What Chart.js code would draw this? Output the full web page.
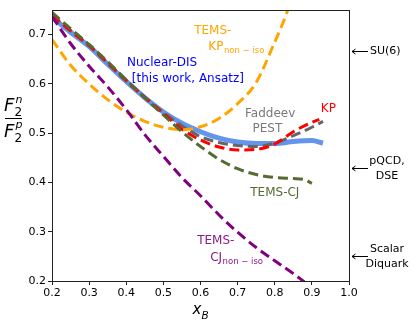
<!DOCTYPE html>
<html>
<head>
<meta charset="utf-8">
<script src="https://cdn.jsdelivr.net/npm/chart.js@4.4.1/dist/chart.umd.min.js"></script>
<style>
  html, body { margin: 0; padding: 0; background: #fff; }
  #wrap { width: 420px; height: 328px; }
</style>
</head>
<body>
<div id="wrap"><canvas id="chart" width="420" height="328"></canvas></div>
<script>
// Tick values
const xTicks = [0.2, 0.3, 0.4, 0.5, 0.6, 0.7, 0.8, 0.9, 1.0];
const yTicks = [0.2, 0.3, 0.4, 0.5, 0.6, 0.7];

// Nuclear-DIS [this work, Ansatz]
const nucX = [0.2, 0.25, 0.3, 0.35, 0.4, 0.45, 0.5, 0.55, 0.6, 0.65, 0.7, 0.75, 0.8, 0.85, 0.9, 0.93];
const nucY = [0.735, 0.705, 0.676, 0.64, 0.605, 0.572, 0.543, 0.52, 0.503, 0.49, 0.482, 0.479, 0.479, 0.483, 0.485, 0.48];

// Faddeev PEST
const pestX = [0.2, 0.3, 0.4, 0.5, 0.55, 0.6, 0.65, 0.7, 0.75, 0.8, 0.85, 0.9, 0.93];
const pestY = [0.737, 0.677, 0.606, 0.542, 0.515, 0.493, 0.481, 0.475, 0.473, 0.48, 0.495, 0.512, 0.524];

// KP
const kpX = [0.2, 0.25, 0.3, 0.35, 0.4, 0.45, 0.5, 0.55, 0.6, 0.65, 0.7, 0.75, 0.8, 0.85, 0.9, 0.92];
const kpY = [0.74, 0.708, 0.678, 0.643, 0.607, 0.572, 0.54, 0.508, 0.486, 0.472, 0.466, 0.467, 0.478, 0.503, 0.522, 0.528];

// TEMS-KP non-iso
const kpNonIsoX = [0.2, 0.25, 0.3, 0.35, 0.4, 0.45, 0.5, 0.55, 0.6, 0.65, 0.7, 0.75, 0.8, 0.82, 0.84];
const kpNonIsoY = [0.69, 0.638, 0.6, 0.568, 0.543, 0.524, 0.512, 0.507, 0.513, 0.53, 0.56, 0.603, 0.685, 0.72, 0.76];

// TEMS-CJ non-iso
const cjNonIsoX = [0.2, 0.25, 0.3, 0.35, 0.4, 0.45, 0.5, 0.55, 0.6, 0.65, 0.7, 0.75, 0.8, 0.85, 0.88];
const cjNonIsoY = [0.737, 0.682, 0.636, 0.594, 0.548, 0.497, 0.453, 0.41, 0.373, 0.334, 0.299, 0.268, 0.241, 0.215, 0.198];

// TEMS-CJ
const cjX = [0.2, 0.25, 0.3, 0.35, 0.4, 0.45, 0.5, 0.55, 0.6, 0.65, 0.7, 0.75, 0.8, 0.85, 0.88, 0.9];
const cjY = [0.745, 0.712, 0.68, 0.645, 0.608, 0.572, 0.537, 0.503, 0.473, 0.447, 0.428, 0.416, 0.41, 0.408, 0.406, 0.398];

// limit values marked on the right side
const limitNames = [["SU(6)"], ["pQCD,", "DSE"], ["Scalar", "Diquark"]];
const limitValues = [2 / 3, 3 / 7, 0.25];

const FONT = "'DejaVu Sans', sans-serif";
Chart.defaults.font.family = FONT;
Chart.defaults.color = "#000";

function pts(xs, ys) {
  return xs.map((x, i) => ({ x: x, y: ys[i] }));
}

function lineSet(label, xs, ys, color, width, dashed, order) {
  return {
    label: label,
    data: pts(xs, ys),
    borderColor: color,
    borderWidth: width,
    borderDash: dashed ? [10, 5] : [],
    borderCapStyle: "butt",
    pointRadius: 0,
    fill: false,
    cubicInterpolationMode: "monotone",
    clip: 0,
    order: order
  };
}

// text labels inside the plot, anchored in data coords (left edge, vertical centre)
const plotLabels = [
  { t: "TEMS-", x: 0.583, y: 0.71, c: "#ffa500" },
  { t: "KP", sub: "non \u2212 iso", x: 0.621, y: 0.677, c: "#ffa500" },
  { t: "Nuclear-DIS", x: 0.402, y: 0.645, c: "#0000ff" },
  { t: "[this work, Ansatz]", x: 0.415, y: 0.612, c: "#0000ff" },
  { t: "Faddeev", x: 0.72, y: 0.541, c: "#7a7a7a" },
  { t: "PEST", x: 0.74, y: 0.511, c: "#7a7a7a" },
  { t: "KP", x: 0.924, y: 0.552, c: "#ff0000" },
  { t: "TEMS-CJ", x: 0.734, y: 0.381, c: "#556b2f" },
  { t: "TEMS-", x: 0.591, y: 0.284, c: "#8b1a8b" },
  { t: "CJ", sub: "non \u2212 iso", x: 0.626, y: 0.249, c: "#8b1a8b" }
];

const decorPlugin = {
  id: "decor",
  afterDatasetsDraw(chart) {
    const ctx = chart.ctx;
    const a = chart.chartArea;
    const xs = chart.scales.x, ys = chart.scales.y;
    ctx.save();

    // frame
    ctx.strokeStyle = "#222";
    ctx.lineWidth = 1;
    ctx.strokeRect(Math.round(a.left) + 0.5, Math.round(a.top) + 0.5,
      Math.round(a.right - a.left), Math.round(a.bottom - a.top));

    // labels in the plot
    plotLabels.forEach(l => {
      const px = xs.getPixelForValue(l.x);
      const py = ys.getPixelForValue(l.y);
      ctx.fillStyle = l.c;
      ctx.textAlign = "left";
      ctx.textBaseline = "alphabetic";
      ctx.font = "12px " + FONT;
      const base = py + 4.5;
      ctx.fillText(l.t, px, base);
      if (l.sub) {
        const w = ctx.measureText(l.t).width;
        ctx.font = "8.5px " + FONT;
        ctx.fillText(l.sub, px + w + 0.5, base + 2.5);
      }
    });

    // limits at the right with arrows
    ctx.strokeStyle = "#000";
    ctx.fillStyle = "#000";
    ctx.lineWidth = 1;
    limitValues.forEach((v, i) => {
      const py = Math.round(ys.getPixelForValue(v)) + 0.5;
      const x0 = a.right + 3, x1 = a.right + 19;
      ctx.beginPath();
      ctx.moveTo(x0, py); ctx.lineTo(x1, py);
      ctx.moveTo(x0 + 3.5, py - 2.5); ctx.lineTo(x0, py); ctx.lineTo(x0 + 3.5, py + 2.5);
      ctx.stroke();
      const lines = limitNames[i];
      ctx.font = "11px " + FONT;
      ctx.textBaseline = "middle";
      if (lines.length === 1) {
        ctx.textAlign = "left";
        ctx.fillText(lines[0], x1 + 2, py);
      } else {
        ctx.textAlign = "center";
        const cx = x1 + 18;
        ctx.fillText(lines[0], cx + 1, py - 7);
        ctx.fillText(lines[1], cx + 1, py + 7.5);
      }
    });

    // y axis label: F2^n / F2^p
    ctx.fillStyle = "#000";
    ctx.textAlign = "left";
    ctx.textBaseline = "alphabetic";
    ctx.font = "italic 18px " + FONT;
    ctx.fillText("F", 4, 111);
    ctx.fillText("F", 4, 137);
    ctx.font = "12px " + FONT;
    ctx.fillText("2", 14.5, 116);
    ctx.fillText("2", 14.5, 142);
    ctx.font = "italic 11px " + FONT;
    ctx.fillText("n", 15.5, 103);
    ctx.fillText("p", 15.5, 128);
    ctx.fillRect(5, 118, 17, 1);

    // x axis label: x_B
    const cxl = (a.left + a.right) / 2;
    ctx.font = "italic 15px " + FONT;
    ctx.fillText("x", cxl - 8, 314);
    ctx.font = "italic 10.5px " + FONT;
    ctx.fillText("B", cxl + 1, 319);

    ctx.restore();
  }
};

new Chart(document.getElementById("chart").getContext("2d"), {
  type: "line",
  data: {
    datasets: [
      lineSet("TEMS-CJ", cjX, cjY, "#556b2f", 3, true, 1),
      lineSet("TEMS-CJ non-iso", cjNonIsoX, cjNonIsoY, "#800080", 3, true, 2),
      lineSet("TEMS-KP non-iso", kpNonIsoX, kpNonIsoY, "#ffa500", 3, true, 3),
      lineSet("KP", kpX, kpY, "#ff0000", 3, true, 4),
      lineSet("Faddeev PEST", pestX, pestY, "#666666", 3, true, 5),
      lineSet("Nuclear-DIS", nucX, nucY, "#6495ed", 5, false, 6)
    ]
  },
  options: {
    responsive: false,
    devicePixelRatio: 1,
    animation: false,
    layout: { padding: { top: 10, right: 71, left: 0, bottom: 0 } },
    plugins: { legend: { display: false }, tooltip: { enabled: false } },
    scales: {
      x: {
        type: "linear",
        min: 0.2,
        max: 1.0,
        afterBuildTicks: s => { s.ticks = xTicks.map(v => ({ value: v })); },
        afterFit: s => { s.height = 47; },
        ticks: {
          font: { size: 11 },
          color: "#000",
          padding: 2,
          maxRotation: 0,
          callback: v => v.toFixed(1)
        },
        grid: { drawOnChartArea: false, drawTicks: true, tickLength: 4, tickColor: "#222" },
        border: { display: true, color: "#222" }
      },
      y: {
        type: "linear",
        min: 0.2,
        max: 0.75,
        afterBuildTicks: s => { s.ticks = yTicks.map(v => ({ value: v })); },
        afterFit: s => { s.width = 52; },
        ticks: {
          font: { size: 11 },
          color: "#000",
          padding: 2,
          callback: v => v.toFixed(1)
        },
        grid: { drawOnChartArea: false, drawTicks: true, tickLength: 4, tickColor: "#222" },
        border: { display: true, color: "#222" }
      }
    }
  },
  plugins: [decorPlugin]
});
</script>
</body>
</html>
